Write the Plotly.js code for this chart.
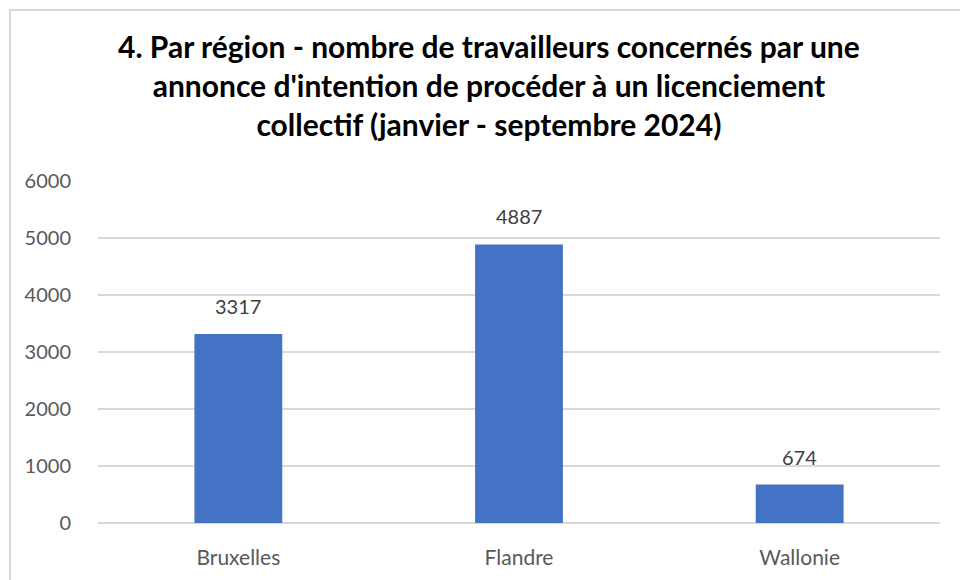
<!DOCTYPE html>
<html><head><meta charset="utf-8">
<script src="https://cdn.plot.ly/plotly-3.0.1.min.js"></script>
<style>
html,body{margin:0;padding:0;width:960px;height:580px;overflow:hidden;background:#fff;}
#frame{position:absolute;left:9px;top:9px;width:980px;height:620px;border:2px solid #d9d9d9;box-sizing:border-box;pointer-events:none;}
#chart{position:absolute;left:0;top:0;width:960px;height:580px;}
</style></head>
<body>
<div id="chart"></div>
<div id="frame"></div>
<script>
const regions = ["Bruxelles", "Flandre", "Wallonie"];
const travailleurs = [3317, 4887, 674];
const yTicks = [0, 1000, 2000, 3000, 4000, 5000, 6000];
const titleText = "4. Par région - nombre de travailleurs concernés par une<br>annonce d'intention de procéder à un licenciement<br>collectif (janvier - septembre 2024)";

const font = "Lato, 'Open Sans', sans-serif";
const labels = regions.map((r, i) => ({
  x: r, y: travailleurs[i], xref: "x", yref: "y",
  text: String(travailleurs[i]), showarrow: false,
  yanchor: "bottom", yshift: 14,
  font: {family: font, size: 20, color: "#404040"}
}));
labels.push({
  xref: "paper", yref: "paper", x: 0.4644, y: 1.453,
  xanchor: "center", yanchor: "top", showarrow: false, align: "center",
  text: "<b>" + titleText + "</b>",
  font: {family: font, size: 30, color: "#000"}
});

Plotly.newPlot("chart", [{
  type: "bar",
  x: regions,
  y: travailleurs,
  marker: {color: "#4472c4"},
  hoverinfo: "none"
}], {
  width: 960, height: 580,
  margin: {l: 98, r: 20, t: 181, b: 57},
  paper_bgcolor: "#fff", plot_bgcolor: "#fff",
  bargap: 0.687,
  showlegend: false,
  annotations: labels,
  xaxis: {
    tickfont: {family: font, size: 21, color: "#595959"},
    showline: false, showgrid: false, ticks: "outside", ticklen: 16, tickcolor: "rgba(0,0,0,0)"
  },
  yaxis: {
    range: [0, 6000],
    tickvals: yTicks,
    ticktext: yTicks.map(String),
    tickfont: {family: font, size: 20, color: "#595959"},
    gridcolor: "#d9d9d9", gridwidth: 1.5,
    zeroline: true, zerolinecolor: "#d9d9d9", zerolinewidth: 1.5,
    showline: false, ticks: "outside", ticklen: 22, tickcolor: "rgba(0,0,0,0)"
  }
}, {staticPlot: true});
</script>
</body></html>
